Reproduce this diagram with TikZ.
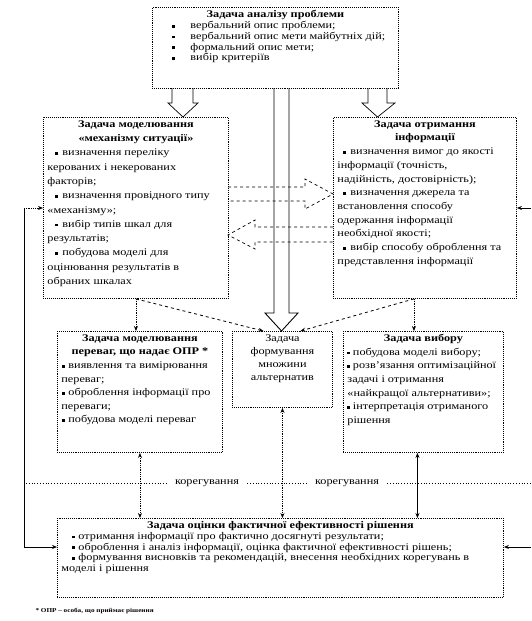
\documentclass[tikz,border=0pt]{standalone}
\usepackage{fontspec}
\setmainfont{Liberation Serif}[FakeStretch=1.2]
\usetikzlibrary{arrows.meta,calc}

\newlength\bulind
\newlength\bulgap
\newcommand\bulsq{\rule[0.9pt]{2.8pt}{2.8pt}}
\newcommand\bitem{\par\noindent\hangindent=\dimexpr\bulind+\bulgap\relax\hangafter=1\hspace*{\bulind}\makebox[\bulgap][l]{\bulsq}}
\newcommand\zmist[3]{\begin{minipage}[t][#2][t]{#1}\setlength\parskip{0pt}#3\end{minipage}}

\tikzset{
  zadacha/.style={draw, densely dotted, line width=0.9pt, fill=white, inner xsep=4pt, inner ysep=3pt, anchor=north west},
  blok/.style={draw, line width=0.7pt},
  vistrya/.style={-{Stealth[length=5pt,width=4pt]}},
  dvistrya/.style={{Stealth[length=5pt,width=4pt]}-{Stealth[length=5pt,width=4pt]}},
  shryft/.style={font=\fontsize{10.2}{#1}\selectfont},
  shryft/.default=13.6,
  shryftm/.style={font=\fontsize{10.2}{10.8}\selectfont}
}

\begin{document}
\begin{tikzpicture}[x=1pt,y=-1pt]
\useasboundingbox (0,0) rectangle (531,621);

% задачі
\node[zadacha, shryftm] (analiz) at (152,7) {\zmist{238pt}{75pt}{%
  \setlength\bulind{16pt}\setlength\bulgap{18pt}%
  {\centering\bfseries Задача аналізу проблеми\par}\raggedright
  \bitem вербальний опис проблеми;
  \bitem вербальний опис мети майбутніх дій;
  \bitem формальний опис мети;
  \bitem вибір критеріїв}};

\node[zadacha, shryft=14.3] (lft) at (43,117) {\zmist{177pt}{175pt}{%
  \setlength\bulind{8pt}\setlength\bulgap{7pt}%
  {\centering\bfseries Задача моделювання\\«механізму ситуації»\par}\raggedright
  \bitem визначення переліку\\керованих і некерованих\\факторів;
  \bitem визначення провідного типу\\«механізму»;
  \bitem вибір типів шкал для\\результатів;
  \bitem побудова моделі для\\оцінювання результатів в\\обраних шкалах}};

\node[zadacha, shryft=13.7] (rgt) at (333,117) {\zmist{175pt}{175pt}{%
  \setlength\bulind{6pt}\setlength\bulgap{7pt}%
  {\centering\bfseries Задача отримання\\інформації\par}\raggedright
  \bitem визначення вимог до якості\\інформації (точність,\\надійність, достовірність);
  \bitem визначення джерела та\\встановлення способу\\одержання інформації\\необхідної якості;
  \bitem вибір способу оброблення та\\представлення інформації}};

\node[zadacha, shryft] (mperev) at (57,331) {\zmist{157pt}{115pt}{%
  \setlength\bulind{1pt}\setlength\bulgap{6pt}%
  {\centering\bfseries Задача моделювання\\переваг, що надає ОПР *\par}\raggedright
  \bitem виявлення та вимірювання\\переваг;
  \bitem оброблення інформації про\\переваги;
  \bitem побудова моделі переваг}};

\node[zadacha, shryft=13] (mnozh) at (232,331) {\zmist{92pt}{70pt}{%
  \centering Задача\\формування\\множини\\альтернатив}};

\node[zadacha, shryft] (vyb) at (343,331) {\zmist{152pt}{115pt}{%
  \setlength\bulind{0pt}\setlength\bulgap{5.5pt}%
  {\centering\bfseries Задача вибору\par}\raggedright
  \bitem побудова моделі вибору;
  \bitem розв’язання оптимізаційної\\задачі і отримання\\«найкращої альтернативи»;
  \bitem інтерпретація отриманого\\рішення}};

\node[zadacha, shryftm] (ocinka) at (57,518) {\zmist{438pt}{73pt}{%
  \setlength\bulind{11pt}\setlength\bulgap{6pt}%
  {\centering\bfseries Задача оцінки фактичної ефективності рішення\par}\raggedright
  \bitem отримання інформації про фактично досягнуті результати;
  \bitem оброблення і аналіз інформації, оцінка фактичної ефективності рішень;
  \bitem формування висновків та рекомендацій, внесення необхідних корегувань в\\моделі і рішення}};

% великі стрілки
\draw[blok] (172,88) -- (172,103) -- (168,103) -- (183,117) -- (198,103) -- (193,103) -- (193,88);
\draw[blok] (368,88) -- (368,103) -- (362,103) -- (377.5,117) -- (395,103) -- (387,103) -- (387,88);
\draw[blok, dashed] (228,187) -- (305,187) -- (305,179) -- (333,194) -- (305,209) -- (305,201) -- (228,201);
\draw[blok, dashed] (333,227) -- (255,227) -- (255,220) -- (228,235) -- (255,249) -- (255,242) -- (333,242);
\draw[blok, line width=0.9pt] (274,88) -- (274,313) -- (265,313) -- (281.5,331) -- (298,313) -- (289,313) -- (289,88);

% зв'язки
\coordinate (rs) at ($(rgt.south)+(-11,0)$);
\draw[densely dotted, thick, vistrya] (lft.south) -- (lft.south |- mperev.north);
\draw[densely dotted, thick, vistrya] (rs) -- (rs |- vyb.north);
\draw[dashed, thick, vistrya] (lft.south) -- ($(mnozh.north)+(-19,0)$);
\draw[dashed, thick, vistrya] (rs) -- ($(mnozh.north)+(18,0)$);

\coordinate (vs) at ($(vyb.south)+(-6,0)$);
\draw[densely dotted, thick, dvistrya] (mperev.south) -- (mperev.south |- ocinka.north);
\draw[densely dotted, thick, dvistrya] (mnozh.south) -- (mnozh.south |- ocinka.north);
\draw[thick, dvistrya] (vs) -- (vs |- ocinka.north);

% корегування
\coordinate (kl) at (26,483);
\coordinate (kr) at (531,483);
\node[shryft, inner xsep=8pt] (kor1) at (207,483) {корегування};
\node[shryft, inner xsep=8pt] (kor2) at (347,483) {корегування};
\draw[dotted, thick] (kl) -- (kor1) (kor1) -- (kor2) (kor2) -- (kr);

% зворотний зв'язок
\coordinate (fl1) at (24,208);
\coordinate (fl2) at (24,547);
\coordinate (fr1) at (531,208);
\coordinate (fr2) at (531,547);
\draw[thick] (fl1) -- (fl2);
\draw[densely dotted, thick, vistrya] (fl1) -- (fl1 -| lft.west);
\draw[thick, vistrya] (fl2) -- (fl2 -| ocinka.west);
\draw[thick, vistrya] (fr1) -- (fr1 -| rgt.east);
\draw[thick, vistrya] (fr2) -- (fr2 -| ocinka.east);

\node[anchor=west, font=\fontsize{6}{7}\selectfont\bfseries] (prymitka) at (32,611) {* ОПР – особа, що приймає рішення};
\end{tikzpicture}
\end{document}
